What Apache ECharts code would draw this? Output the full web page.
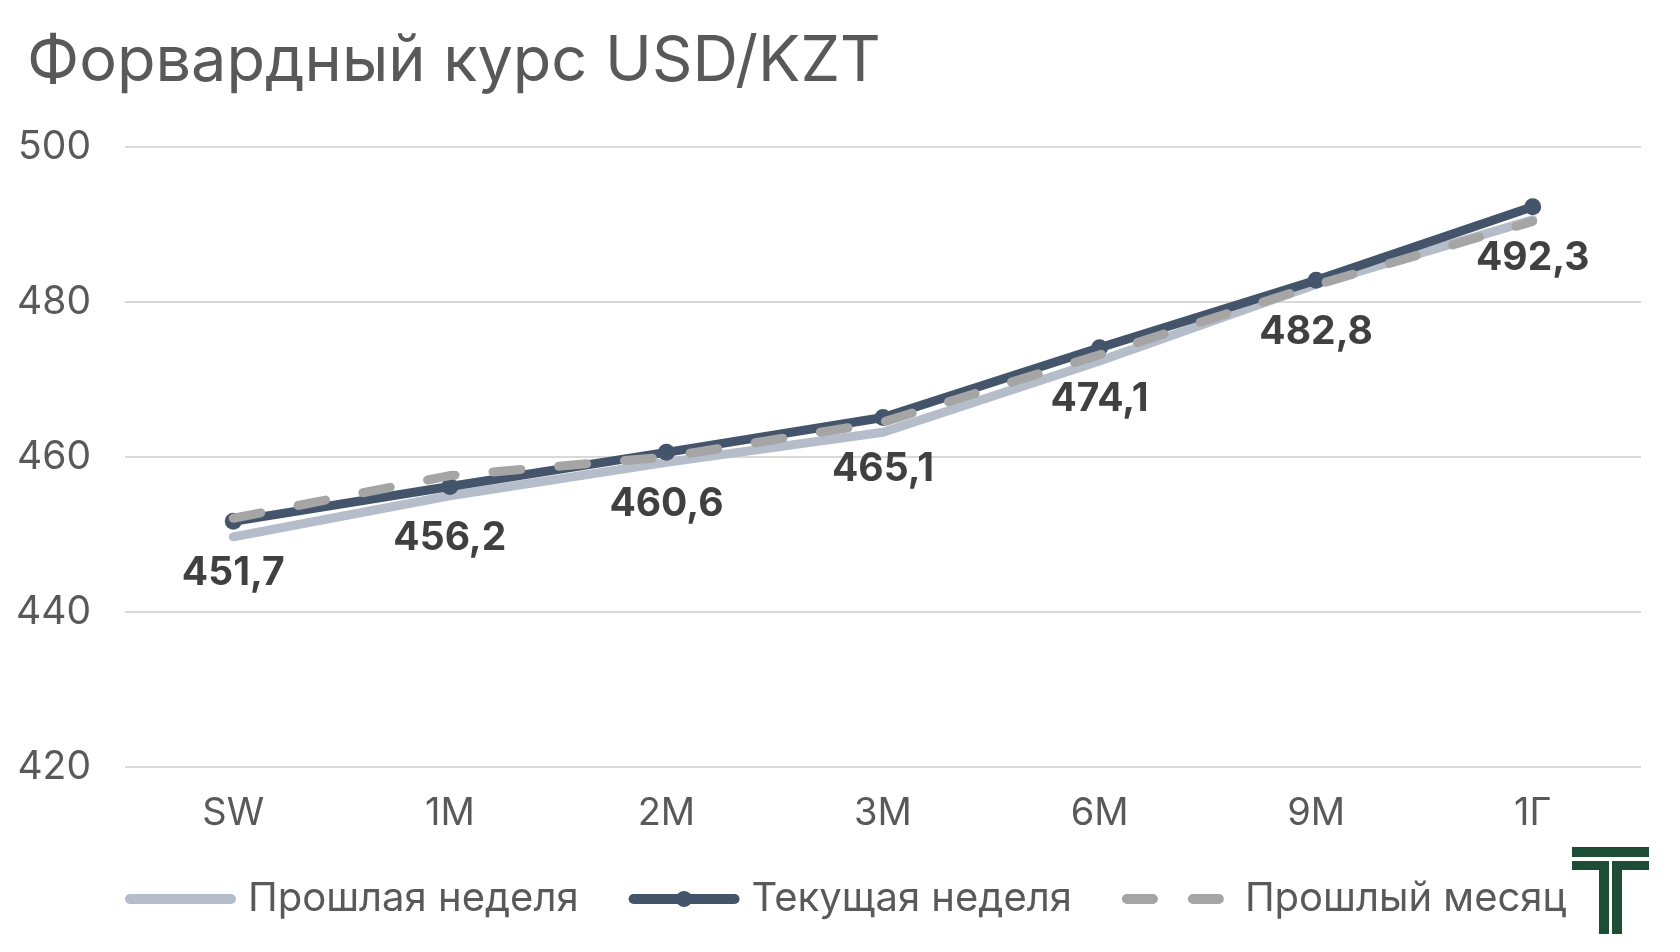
<!DOCTYPE html>
<html>
<head>
<meta charset="utf-8">
<script src="https://cdn.jsdelivr.net/npm/echarts@6/dist/echarts.min.js"></script>
<style>
  html, body { margin: 0; padding: 0; background: #fff; }
  #chart { width: 1680px; height: 952px; }
</style>
</head>
<body>
<div id="chart"></div>
<script>
const categories = ['SW', '1M', '2M', '3M', '6M', '9M', '1Г']
const lastWeek = [449.7, 455.0, 459.3, 463.2, 472.4, 482.3, 490.6]
const thisWeek = [451.7, 456.2, 460.6, 465.1, 474.1, 482.8, 492.3]
const lastMonth = [452.1, 457.6, 460.0, 464.5, 473.2, 482.2, 490.4]

const font = 'Inter, "Noto Sans", sans-serif'
const textColor = '#595959'
const hidden = { color: 'rgba(0,0,0,0)', borderWidth: 0 }

const myChart = echarts.init(document.getElementById('chart'))

const option = {
  backgroundColor: '#fff',
  animation: false,
  title: {
    text: 'Форвардный курс USD/KZT',
    left: 22,
    top: 26,
    textStyle: {
      fontFamily: font,
      fontSize: 63,
      fontWeight: 'normal',
      color: textColor
    }
  },
  grid: {
    left: 125,
    right: 39,
    top: 147,
    bottom: 185,
    outerBoundsMode: 'none'
  },
  legend: {
    left: 120,
    top: 874,
    itemWidth: 101,
    itemHeight: 20,
    itemGap: 50,
    textStyle: {
      fontFamily: font,
      fontSize: 40,
      color: textColor,
      padding: [0, 0, 0, 12]
    },
    data: [
      {
        name: 'Прошлая неделя',
        itemStyle: hidden,
        lineStyle: { width: 10, cap: 'round' }
      },
      {
        name: 'Текущая неделя',
        lineStyle: { width: 10, cap: 'round' }
      },
      {
        name: 'Прошлый месяц',
        itemStyle: hidden,
        lineStyle: { width: 10, cap: 'round', type: [26, 40] }
      }
    ]
  },
  xAxis: {
    type: 'category',
    data: categories,
    boundaryGap: true,
    axisLine: { show: false },
    axisTick: { show: false },
    axisLabel: {
      margin: 28,
      fontFamily: font,
      fontSize: 38,
      color: textColor
    }
  },
  yAxis: {
    type: 'value',
    min: 420,
    max: 500,
    interval: 20,
    axisLine: { show: false },
    axisTick: { show: false },
    axisLabel: {
      margin: 34,
      fontFamily: font,
      fontSize: 39,
      color: textColor
    },
    splitLine: {
      lineStyle: { color: '#d9d9d9', width: 2 }
    }
  },
  series: [
    {
      name: 'Прошлая неделя',
      type: 'line',
      data: lastWeek,
      symbol: 'none',
      z: 1,
      lineStyle: { color: '#b4bdc9', width: 9, cap: 'round', join: 'round' },
      itemStyle: { color: '#b4bdc9' }
    },
    {
      name: 'Текущая неделя',
      type: 'line',
      data: thisWeek,
      symbol: 'circle',
      symbolSize: 17,
      z: 2,
      lineStyle: { color: '#44546a', width: 9, cap: 'round', join: 'round' },
      itemStyle: { color: '#44546a' },
      label: {
        show: true,
        position: 'bottom',
        distance: 24,
        formatter: (p) => p.value.toFixed(1).replace('.', ','),
        fontFamily: font,
        fontSize: 39,
        fontWeight: 'bold',
        color: '#404040'
      }
    },
    {
      name: 'Прошлый месяц',
      type: 'line',
      data: lastMonth,
      symbol: 'none',
      z: 3,
      lineStyle: { color: '#a5a5a5', width: 9, type: [28, 38], cap: 'round', join: 'round' },
      itemStyle: { color: '#a5a5a5' }
    }
  ],
  graphic: [
    // логотип
    { type: 'rect', shape: { x: 1572, y: 847, width: 77, height: 10 }, style: { fill: '#1e4d36' } },
    { type: 'rect', shape: { x: 1572, y: 861, width: 37, height: 9 }, style: { fill: '#1e4d36' } },
    { type: 'rect', shape: { x: 1612, y: 861, width: 37, height: 9 }, style: { fill: '#1e4d36' } },
    { type: 'rect', shape: { x: 1599, y: 861, width: 10, height: 73 }, style: { fill: '#1e4d36' } },
    { type: 'rect', shape: { x: 1612, y: 861, width: 10, height: 73 }, style: { fill: '#1e4d36' } }
  ]
}

myChart.setOption(option)
</script>
</body>
</html>
